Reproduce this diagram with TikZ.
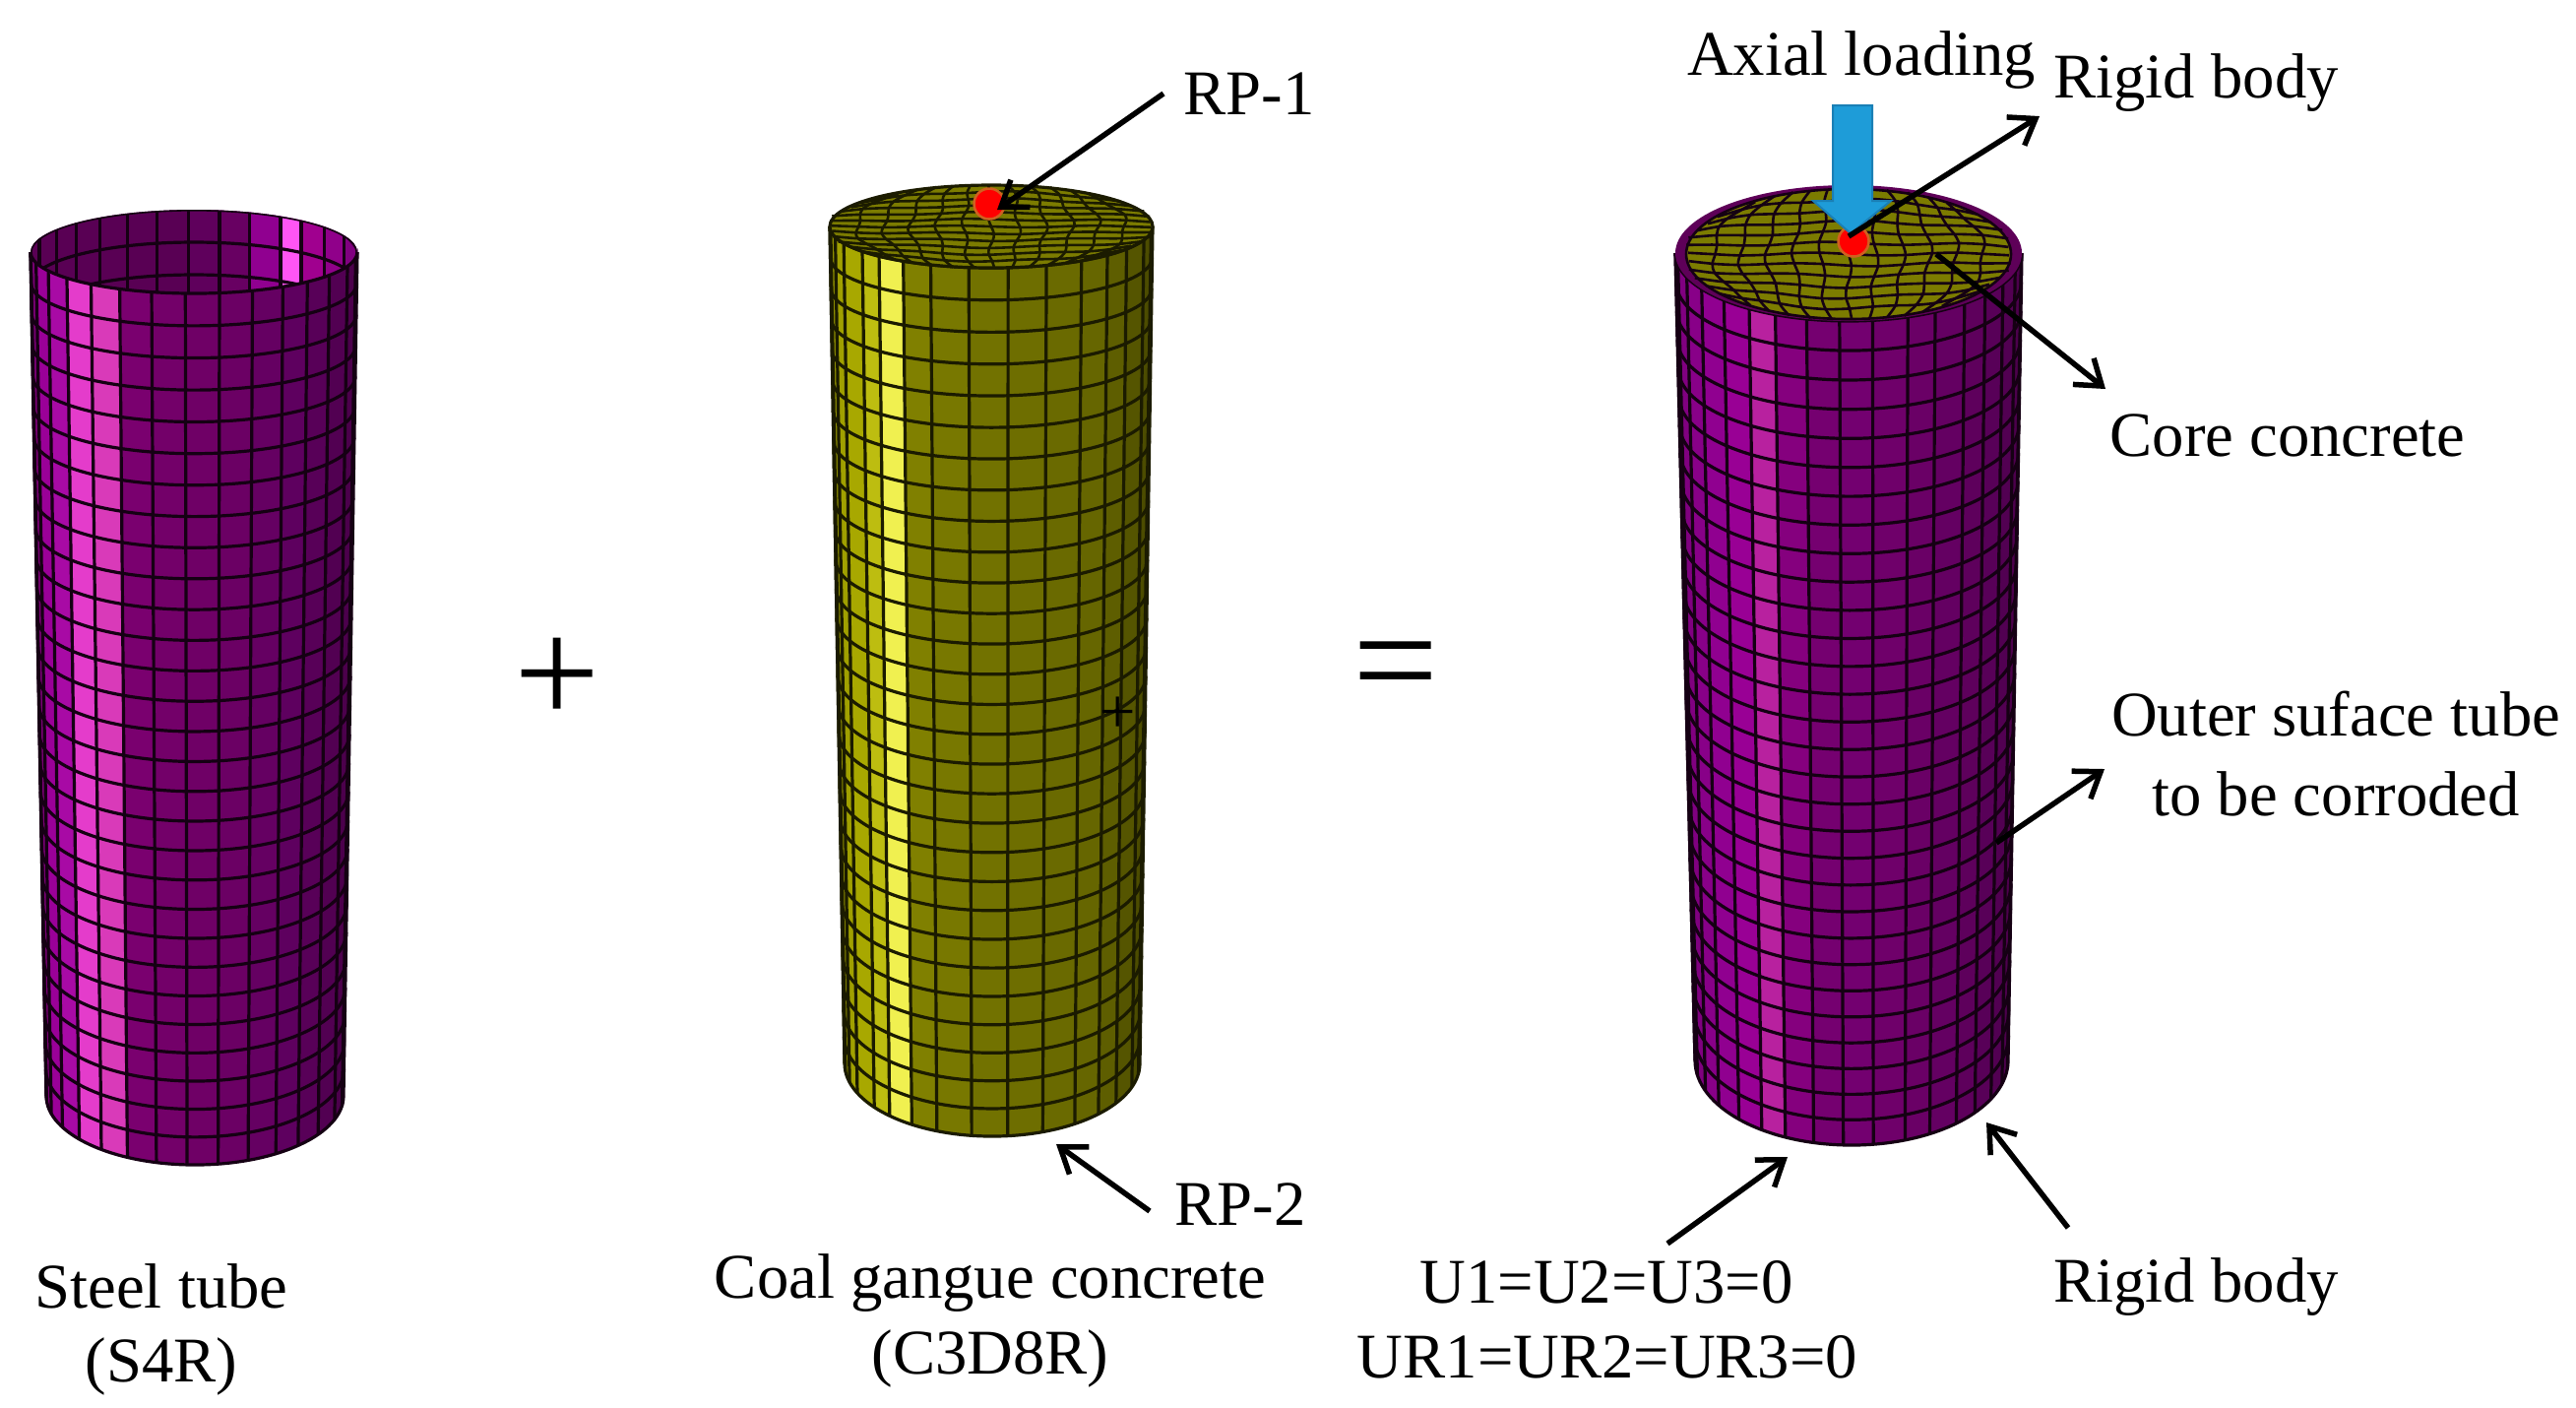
\documentclass[tikz,border=0pt]{standalone}
\usepackage{fontspec}
\setmainfont{Liberation Serif}
\usetikzlibrary{arrows.meta}

\definecolor{rimpurple}{HTML}{5E0058}
\definecolor{coreolive}{HTML}{7C7C00}
\definecolor{loadblue}{HTML}{1E9CD8}
\definecolor{loadedge}{HTML}{1A7FB5}
\definecolor{dotedge}{HTML}{D06020}

\tikzset{
  label/.style={font=\fontsize{18.4}{20}\selectfont, inner sep=0pt},
  bigsign/.style={inner sep=0pt, font=\fontsize{44}{46}\selectfont},
  callout/.style={line width=0.55mm, -{Straight Barb[length=2.4mm,width=3.4mm,line width=0.55mm]}},
  rpdot/.style={circle, fill=red, draw=dotedge, line width=0.25mm, minimum size=3.1mm, inner sep=0pt},
  meshline/.style={meshdark, line width=0.32mm},
  capline/.style={meshdark, line width=0.26mm}
}

% top centre x, y, radii, then bottom centre x, y, radii, number of rows
\newcommand{\meshtube}[9]{
  \foreach \a/\b/\hex in \striplist {
    \edef\setstrip{\noexpand\definecolor{stripcol}{HTML}{\hex}}\setstrip
    \fill [stripcol, draw=stripcol, line width=0.1mm]
      ({#1-#3*cos(\a)},{#2+#4*sin(\a)}) -- ({#5-#7*cos(\a)},{#6+#8*sin(\a)})
      -- ({#5-#7*cos(\b)},{#6+#8*sin(\b)}) -- ({#1-#3*cos(\b)},{#2+#4*sin(\b)}) -- cycle;
  }
  \foreach \a/\b/\hex in \striplist
    \draw [meshline] ({#1-#3*cos(\a)},{#2+#4*sin(\a)}) -- ({#5-#7*cos(\a)},{#6+#8*sin(\a)});
  \foreach \i in {0,...,#9} {
    \pgfmathsetmacro{\s}{\i/#9*(1.08-0.08*\i/#9)}
    \pgfmathsetmacro{\cxs}{#1+(#5-#1)*\s}
    \pgfmathsetmacro{\cys}{#2+(#6-#2)*\s}
    \pgfmathsetmacro{\rxs}{#3+(#7-#3)*\s}
    \pgfmathsetmacro{\rys}{#4+(#8-#4)*\s}
    \draw [meshline] ({\cxs+\rxs},\cys) arc[start angle=0, end angle=180, x radius=\rxs, y radius=\rys];
  }
  \draw [meshline] ({#1+#3},#2) -- ({#5+#7},#6);
  \draw [meshline] ({#1-#3},#2) -- ({#5-#7},#6);
}

% mapped square grid on an end face, roughened a little
\newcommand{\meshcap}[5]{
  \pgfmathtruncatemacro{\lastline}{#5-1}
  \foreach \i in {1,...,\lastline} {
    \pgfmathsetmacro{\v}{-1+2*\i/#5}
    \draw [capline] plot[smooth, variable=\t, domain=-1:1, samples=13]
      ({#1+#3*(\t*sqrt(1-\v*\v/2)+0.015*sin(500*\v+300*\t))},{#2+#4*(\v*sqrt(1-\t*\t/2)+0.022*sin(420*\t+200*\v))});
    \draw [capline] plot[smooth, variable=\t, domain=-1:1, samples=13]
      ({#1+#3*(\v*sqrt(1-\t*\t/2)+0.018*sin(450*\t+260*\v))},{#2+#4*(\t*sqrt(1-\v*\v/2)+0.018*sin(380*\v+240*\t))});
  }
}

\begin{document}
\begin{tikzpicture}[x=0.1mm, y=-0.1mm]
\useasboundingbox (0,0) rectangle (2617,1429);

%% steel tube: inside wall first
\colorlet{meshdark}{black!78!rimpurple}
\begin{scope}
  \clip (197,256) circle[x radius=166, y radius=43];
  \fill [black!5!rimpurple] (20,200) rectangle (380,320);
  \foreach \a/\b/\hex in {88/99/5F005C, 99/110/680062, 110/122/900090, 122/131/FF55F5, 131/143/A0008F, 143/157/90008A, 157/180/800080} {
    \edef\setstrip{\noexpand\definecolor{stripcol}{HTML}{\hex}}\setstrip
    \fill [stripcol] ({197-166*cos(\a)},{256-43*sin(\a)}) -- ({197-166*cos(\b)},{256-43*sin(\b)})
      -- ({197-166*cos(\b)},320) -- ({197-166*cos(\a)},320) -- cycle;
  }
  \foreach \a in {19,33,44,55,66,77,88,99,110,122,131,143,157}
    \draw [meshline] ({197-166*cos(\a)},{256-43*sin(\a)}) -- ({197-166*cos(\a)},320);
  \foreach \i in {0,1,2}
    \draw [meshline] (363,256+33*\i) arc[start angle=0, end angle=-180, x radius=166, y radius=43];
\end{scope}
\def\striplist{0/3/5E005C, 3/15/7A0075, 15/27/9A0098, 27/39/A80AA5, 39/51/E43CCB, 51/63/D93AB9,
  63/75/7A006F, 75/87/730069, 87/99/6F0066, 99/111/6B0064, 111/123/650062, 123/134/5E005F,
  134/146/580058, 146/160/520052, 160/172/4C004C, 172/180/480048}
\meshtube{197}{256}{166}{42}{198}{1113}{151}{70}{29}

%% coal gangue concrete
\colorlet{meshdark}{black!78!coreolive}
\def\striplist{0/6/6E6E00, 6/15/8E8E00, 15/24/A0A000, 24/37/A8A800, 37/46/BDBD10, 46/57/F0F050,
  57/68/808000, 68/82/787800, 82/96/727200, 96/110/6E6E00, 110/124/6A6A00, 124/136/666600,
  136/147/5E5E00, 147/161/555500, 161/172/4C4C00, 172/180/484800}
\meshtube{1007}{230}{164}{42}{1008}{1080}{150}{74}{29}
\fill [coreolive] (1007,230) circle[x radius=164, y radius=42];
\meshcap{1007}{230}{164}{42}{12}
\draw [meshline] (1007,230) circle[x radius=164, y radius=42];
\node [label] (centermark) at (1136,726) {+};
\node [rpdot] (rpone) at (1005,207) {};

%% assembled column
\colorlet{meshdark}{black!78!rimpurple}
\def\striplist{0/10/6A0066, 10/21/800080, 21/32/880088, 32/44/900090, 44/55/990095, 55/65/B8219F,
  65/76/85007E, 76/87/750070, 87/98/730070, 98/110/6F006A, 110/120/6A0066, 120/132/640062,
  132/142/5E005C, 142/153/580058, 153/164/520052, 164/175/4C004C, 175/180/480048}
\meshtube{1878}{257}{176}{69}{1881}{1077}{159}{86}{30}
\fill [rimpurple] (1878,257) circle[x radius=176, y radius=69];
\fill [coreolive] (1878,258) circle[x radius=165, y radius=66];
\meshcap{1878}{258}{165}{66}{12}
\draw [capline] (1878,258) circle[x radius=165, y radius=66];
\node [rpdot] (rptop) at (1883,245) {};

%% axial load
\filldraw [loadblue, draw=loadedge, line width=0.2mm]
  (1862,107) -- (1902,107) -- (1902,204) -- (1921,204) -- (1880,237)
  -- (1842,204) -- (1862,204) -- cycle;

%% signs
\node [bigsign] (plussign) at (566,692) {+};
\node [bigsign] (equalsign) at (1418,687) {=};

%% labels
\node [label] (steellabel) at (164,1306) {Steel tube};
\node [label] (steeltype) at (164,1388) {(S4R)};
\node [label] (coallabel) at (1006,1303) {Coal gangue concrete};
\node [label] (coaltype) at (1006,1380) {(C3D8R)};
\node [label] (rponelabel) at (1269,95) {RP-1};
\node [label] (rptwolabel) at (1260,1223) {RP-2};
\node [label] (loadlabel) at (1891,61) {Axial loading};
\node [label] (rigidtop) at (2231,84) {Rigid body};
\node [label] (corelabel) at (2324,442) {Core concrete};
\node [label] (outerlabel) at (2373,725) {Outer suface tube};
\node [label] (corrodelabel) at (2373,806) {to be corroded};
\node [label] (ulabel) at (1632,1302) {U1=U2=U3=0};
\node [label] (urlabel) at (1633,1378) {UR1=UR2=UR3=0};
\node [label] (rigidbottom) at (2231,1307) {Rigid body};

%% free ends of the callouts
\coordinate (rponetail) at (1182,95);
\coordinate (rponetip) at (1013,213);
\coordinate (rptwotail) at (1168,1230);
\coordinate (rptwotip) at (1073,1162);
\coordinate (rigidtail) at (1878,240);
\coordinate (rigidtip) at (2072,118);
\coordinate (coretail) at (1967,258);
\coordinate (coretip) at (2139,395);
\coordinate (outertail) at (2028,856);
\coordinate (outertip) at (2138,781);
\coordinate (utail) at (1694,1263);
\coordinate (utip) at (1816,1175);
\coordinate (basetail) at (2101,1247);
\coordinate (basetip) at (2018,1140);

\draw [callout] (rponetail) -- (rponetip);
\draw [callout] (rptwotail) -- (rptwotip);
\draw [callout] (rigidtail) -- (rigidtip);
\draw [callout] (coretail) -- (coretip);
\draw [callout] (outertail) -- (outertip);
\draw [callout] (utail) -- (utip);
\draw [callout] (basetail) -- (basetip);

\end{tikzpicture}
\end{document}
